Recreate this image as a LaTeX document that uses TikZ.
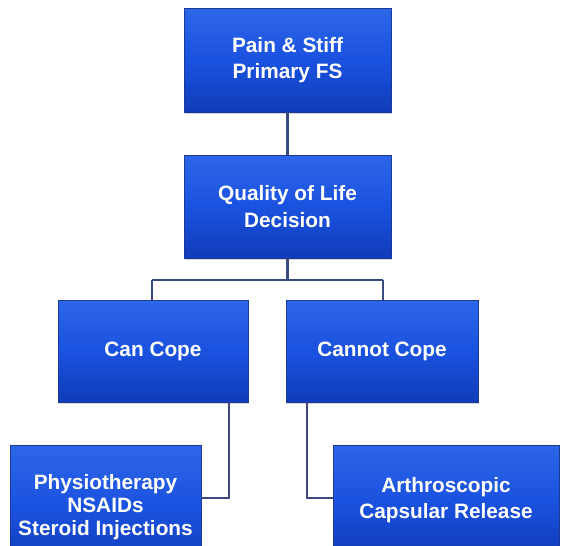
\documentclass[tikz,border=0pt]{standalone}
\usepackage{fontspec}
\setmainfont{Liberation Sans}
\usetikzlibrary{shadows}
\definecolor{boxtop}{HTML}{2E66E8}
\definecolor{boxmid}{HTML}{1A52E0}
\definecolor{boxbot}{HTML}{103CB8}
\definecolor{boxedge}{HTML}{1A3A98}
\definecolor{linkcol}{HTML}{3A4A80}
\tikzset{
  bluebox/.style={rectangle, draw=boxedge, line width=0.6pt,
    top color=boxtop, bottom color=boxbot, middle color=boxmid,
    drop shadow={shadow xshift=0.8pt, shadow yshift=-1.2pt, opacity=0.35},
    text=white, align=center, inner sep=0pt,
    font=\fontsize{15.6pt}{20pt}\selectfont\bfseries},
  link/.style={draw=linkcol, line width=1.6pt}
}
\begin{document}
\begin{tikzpicture}[x=0.75pt, y=-0.75pt]
\useasboundingbox (0,0) rectangle (561,546);
\clip (0,0) rectangle (561,546);
\fill[white] (0,0) rectangle (561,546);
\node[bluebox, minimum width=155.25pt, minimum height=78pt] (pain) at (287.5,60) {Pain \& Stiff\\Primary FS};
\node[bluebox, minimum width=155.25pt, minimum height=77.25pt] (qol) at (287.5,206.5) {Quality of Life\\Decision};
\node[bluebox, minimum width=142.5pt, minimum height=76.5pt] (can) at (153,351) {Can Cope};
\node[bluebox, minimum width=144pt, minimum height=76.5pt] (cannot) at (382,351) {Cannot Cope};
\node[bluebox, minimum width=143.25pt, minimum height=93pt, font=\fontsize{15.6pt}{17pt}\selectfont\bfseries] (phys) at (105.5,507) {Physiotherapy\\NSAIDs\\Steroid Injections};
\node[bluebox, minimum width=169.5pt, minimum height=82.5pt] (arth) at (446,500) {Arthroscopic\\Capsular Release};
\coordinate (split) at (287.5,280);
\coordinate (canTop) at (152,280);
\coordinate (cannotTop) at (383,280);
\coordinate (canDown) at (229,498);
\coordinate (cannotDown) at (307,498);
\draw[link] (pain.south) -- (qol.north);
\draw[link] (qol.south) -- (split);
\draw[link] (canTop) -- (cannotTop);
\draw[link] (canTop) -- (canTop |- can.north);
\draw[link] (cannotTop) -- (cannotTop |- cannot.north);
\draw[link] (canDown |- can.south) -- (canDown) -- (canDown -| phys.east);
\draw[link] (cannotDown |- cannot.south) -- (cannotDown) -- (cannotDown -| arth.west);
\end{tikzpicture}
\end{document}
